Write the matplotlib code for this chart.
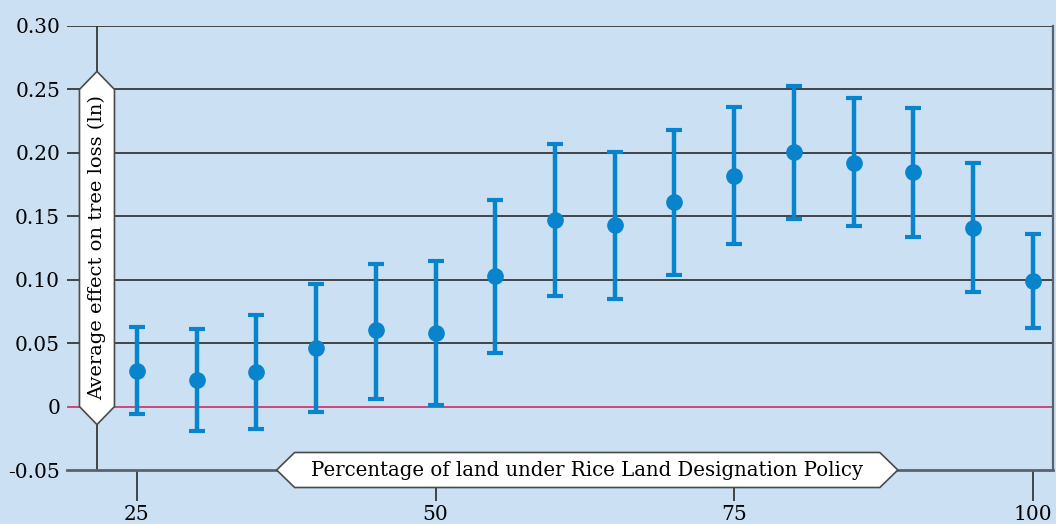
import numpy as np
import matplotlib.pyplot as plt
from matplotlib.patches import Polygon
from matplotlib.transforms import IdentityTransform

# Share of land under the policy (%) and estimated effect with 95% CI
share = [25, 30, 35, 40, 45, 50, 55, 60, 65, 70, 75, 80, 85, 90, 95, 100]
effect = [0.028, 0.021, 0.027, 0.046, 0.060, 0.058, 0.103, 0.147, 0.143, 0.161,
          0.182, 0.201, 0.192, 0.185, 0.141, 0.099]
ci_low = [-0.006, -0.019, -0.018, -0.004, 0.006, 0.001, 0.042, 0.087, 0.085, 0.104,
          0.128, 0.148, 0.142, 0.134, 0.090, 0.062]
ci_high = [0.063, 0.061, 0.072, 0.097, 0.112, 0.115, 0.163, 0.207, 0.201, 0.218,
           0.236, 0.253, 0.243, 0.235, 0.192, 0.136]

yticks = [-0.05, 0, 0.05, 0.10, 0.15, 0.20, 0.25, 0.30]
ytick_labels = ["-0.05", "0", "0.05", "0.10", "0.15", "0.20", "0.25", "0.30"]
xticks = [25, 50, 75, 100]

bg = "#cce0f3"
blue = "#0784cc"
plt.rcParams["font.family"] = ["DejaVu Serif"]

fig = plt.figure(figsize=(10.56, 5.24), dpi=100, facecolor=bg)
ax = fig.add_axes([67/1056, 54/524, 986/1056, 444/524], facecolor=bg)
ax.set_xlim(19.14, 101.7)
ax.set_ylim(-0.05, 0.30)

# horizontal reference lines
for y in yticks:
    if y == 0:
        ax.axhline(y, color="#cc2f66", lw=1.2, zorder=1)
    elif y > -0.05:
        ax.axhline(y, color="#2a2a2a", lw=1.2, zorder=1)
ax.axvline(21.65, color="#2a2a2a", lw=1.2, zorder=1)

effect = np.array(effect)
yerr = [effect - np.array(ci_low), np.array(ci_high) - effect]
ax.errorbar(share, effect, yerr=yerr, fmt="o", color=blue, ms=11,
            elinewidth=3.2, capsize=5.8, capthick=3, zorder=5)

for side in ["top", "left"]:
    ax.spines[side].set_visible(False)
ax.spines["bottom"].set_color("#5a6270")
ax.spines["bottom"].set_linewidth(2)
ax.spines["right"].set_color("#5a6270")
ax.spines["right"].set_linewidth(1.6)

ax.set_yticks(yticks)
ax.set_yticklabels(ytick_labels)
ax.tick_params(axis="y", length=0, pad=5, labelsize=14.5)
ax.set_xticks(xticks)
ax.tick_params(axis="x", length=22, width=1.2, color="#2a2a2a", pad=3, labelsize=14.5)


def hex_label(x0, y0, x1, y1, half_w, tip):
    # white pointed box along the segment (x0,y0)-(x1,y1), given in data coords
    p0 = ax.transData.transform((x0, y0))
    p1 = ax.transData.transform((x1, y1))
    d = (p1 - p0) / np.linalg.norm(p1 - p0)
    n = np.array([-d[1], d[0]])
    verts = [p0 - d * tip, p0 + n * half_w, p1 + n * half_w,
             p1 + d * tip, p1 - n * half_w, p0 - n * half_w]
    poly = Polygon(verts, closed=True, facecolor="white", edgecolor="#4a4a4a",
                   lw=1.2, transform=IdentityTransform(), zorder=8, clip_on=False)
    ax.add_patch(poly)


hex_label(21.65, 0.0, 21.65, 0.25, 17.5, 18)
ax.text(21.65, 0.125, "Average effect on tree loss (ln)", rotation=90,
        ha="center", va="center", fontsize=14, zorder=9, clip_on=False)

hex_label(38.2, -0.05, 87.2, -0.05, 17.5, 18)
ax.text(62.7, -0.05, "Percentage of land under Rice Land Designation Policy",
        ha="center", va="center", fontsize=14.2, zorder=9, clip_on=False)

fig.savefig("out.png", dpi=100, facecolor=bg)
